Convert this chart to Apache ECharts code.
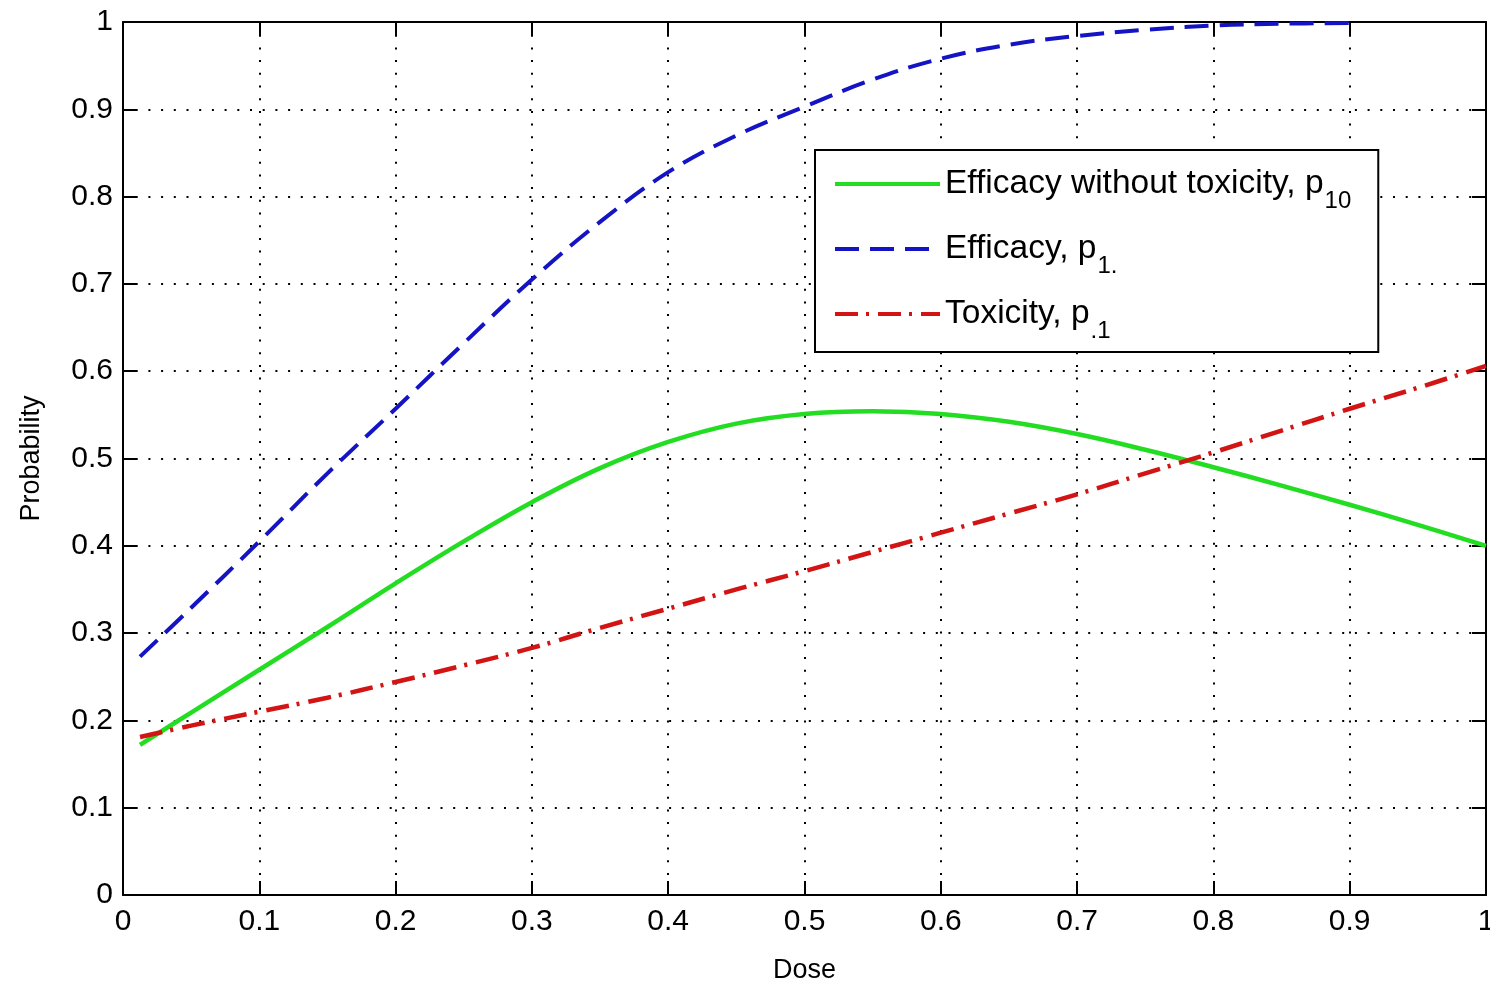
<!DOCTYPE html>
<html>
<head>
<meta charset="utf-8">
<script src="https://cdn.jsdelivr.net/npm/echarts@6/dist/echarts.min.js"></script>
<style>
html,body{margin:0;padding:0;background:#fff;}
#chart{width:1490px;height:983px;}
</style>
</head>
<body>
<div id="chart"></div>
<script>
// ---- data ----
const dose = [0.0125, 0.05, 0.1, 0.15, 0.2, 0.25, 0.3, 0.35, 0.4, 0.45, 0.5, 0.55, 0.6, 0.65, 0.7, 0.75, 0.8, 0.85, 0.9, 0.95, 1.0];
const efficacyNoTox = [0.172, 0.209, 0.258, 0.307, 0.357, 0.405, 0.450, 0.489, 0.519, 0.540, 0.551, 0.554, 0.551, 0.542, 0.528, 0.510, 0.490, 0.469, 0.447, 0.424, 0.400];
const efficacy = [0.273, 0.329, 0.405, 0.483, 0.557, 0.632, 0.705, 0.771, 0.828, 0.870, 0.903, 0.934, 0.958, 0.974, 0.984, 0.991, 0.996, 0.998, 0.999, null, null];
const toxicity = [0.181, 0.194, 0.210, 0.226, 0.244, 0.263, 0.283, 0.306, 0.328, 0.350, 0.371, 0.393, 0.415, 0.437, 0.459, 0.483, 0.507, 0.532, 0.557, 0.581, 0.606];
const legendMain = ['Efficacy without toxicity, p', 'Efficacy, p', 'Toxicity, p'];
const legendSub = ['10', '1.', '.1'];
const xTitle = 'Dose';
const yTitle = 'Probability';

const FONT = '"Liberation Sans", Arial, sans-serif';
const seriesNames = legendMain.map((m, i) => m + legendSub[i]);
const pairs = arr => dose.map((d, i) => [d, arr[i]]);

const chart = echarts.init(document.getElementById('chart'), null, {renderer: 'canvas'});

const baseAxis = {
  min: 0, max: 1, interval: 0.1,
  axisLine: {show: true, onZero: false, lineStyle: {color: '#000', width: 2}},
  axisTick: {show: true, inside: true, length: 14, lineStyle: {color: '#000', width: 2}},
};

chart.setOption({
  backgroundColor: '#fff',
  animation: false,
  grid: {left: 123, right: 4, top: 22, bottom: 88, containLabel: false, outerBoundsMode: 'none'},
  xAxis: [
    Object.assign({}, baseAxis, {
      type: 'value', position: 'bottom',
      name: xTitle, nameLocation: 'middle', nameGap: 62,
      nameTextStyle: {fontFamily: FONT, fontSize: 27, color: '#000'},
      axisLabel: {fontFamily: FONT, fontSize: 30, color: '#000', margin: 12},
      splitLine: {show: true, lineStyle: {color: '#000', width: 2, type: [2, 10.7]}}
    }),
    Object.assign({}, baseAxis, {
      type: 'value', position: 'top',
      axisLabel: {show: false}, splitLine: {show: false}
    })
  ],
  yAxis: [
    Object.assign({}, baseAxis, {
      type: 'value', position: 'left',
      name: yTitle, nameLocation: 'middle', nameGap: 78, nameRotate: 90,
      nameTextStyle: {fontFamily: FONT, fontSize: 27, color: '#000'},
      axisLabel: {fontFamily: FONT, fontSize: 30, color: '#000', margin: 10},
      splitLine: {show: true, lineStyle: {color: '#000', width: 2, type: [2, 10.7]}}
    }),
    Object.assign({}, baseAxis, {
      type: 'value', position: 'right',
      axisLabel: {show: false}, splitLine: {show: false}
    })
  ],
  legend: {
    show: true,
    orient: 'vertical',
    left: 815, top: 150,
    padding: [5, 27, 9, 18],
    itemGap: 7,
    itemWidth: 105,
    itemHeight: 20,
    borderColor: '#000', borderWidth: 2, borderRadius: 0,
    backgroundColor: '#fff',
    data: seriesNames,
    itemStyle: {opacity: 0},
    lineStyle: {width: 4},
    formatter: function (name) {
      const i = seriesNames.indexOf(name);
      return '{m|' + legendMain[i] + '}{s|' + legendSub[i] + '}';
    },
    textStyle: {
      color: '#000',
      rich: {
        m: {fontFamily: FONT, fontSize: 33.5, color: '#000', lineHeight: 40},
        s: {fontFamily: FONT, fontSize: 24, color: '#000', lineHeight: 20, padding: [34, 0, 0, 1]}
      }
    }
  },
  series: [
    {
      name: seriesNames[0], type: 'line', smooth: 0.4, showSymbol: false, symbol: 'none',
      data: pairs(efficacyNoTox),
      lineStyle: {color: '#22dd22', width: 4.5, type: 'solid'},
      itemStyle: {color: '#22dd22'}, z: 3
    },
    {
      name: seriesNames[1], type: 'line', smooth: 0.4, showSymbol: false, symbol: 'none',
      data: pairs(efficacy), connectNulls: false,
      lineStyle: {color: '#1414c4', width: 4, type: [24, 11]},
      itemStyle: {color: '#1414c4'}, z: 3
    },
    {
      name: seriesNames[2], type: 'line', smooth: 0.4, showSymbol: false, symbol: 'none',
      data: pairs(toxicity),
      lineStyle: {color: '#d21414', width: 4.5, type: [23, 8, 3, 9]},
      itemStyle: {color: '#d21414'}, z: 3
    }
  ]
});
</script>
</body>
</html>
